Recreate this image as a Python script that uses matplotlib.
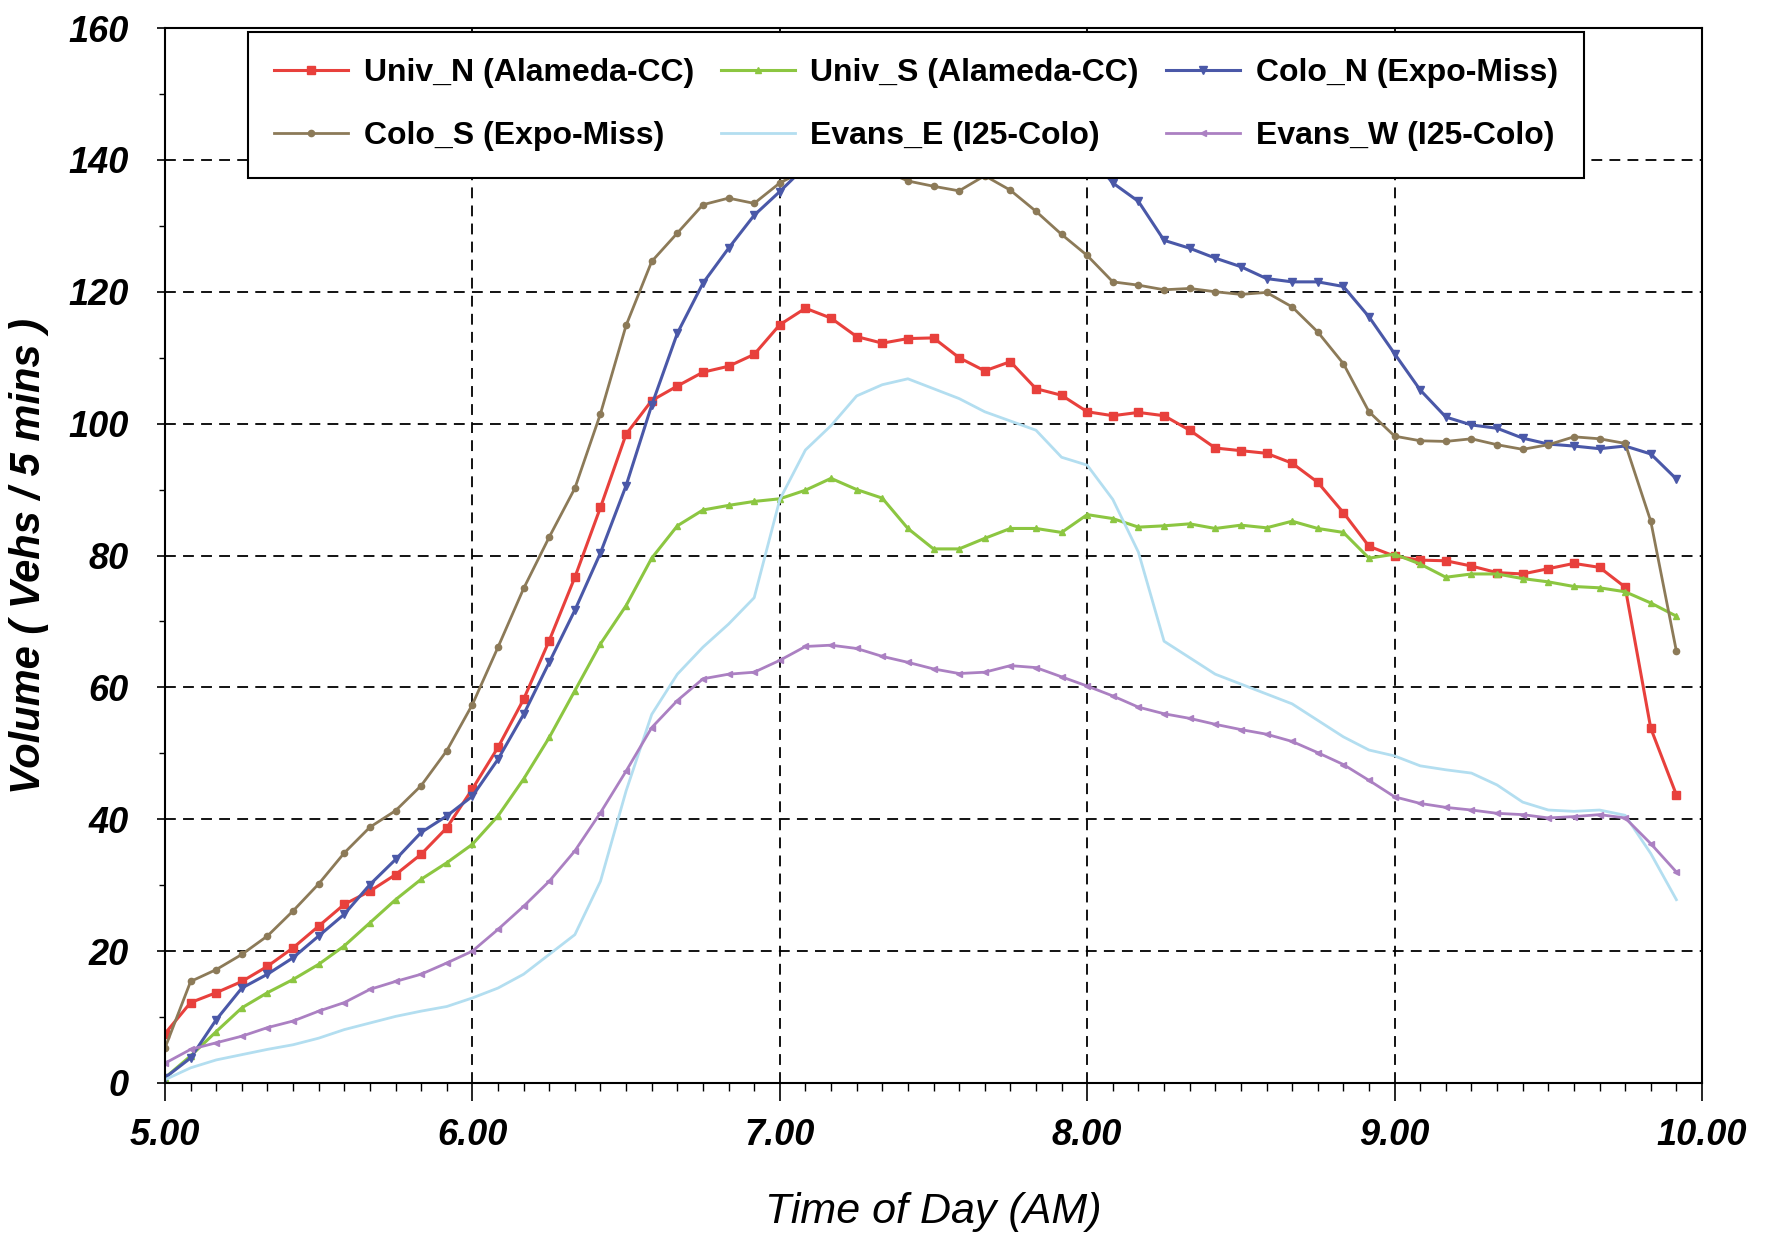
import matplotlib
matplotlib.use("Agg")
import matplotlib.pyplot as plt
import numpy as np
from matplotlib.ticker import MultipleLocator, FormatStrFormatter

plt.rcParams['font.family'] = ['Liberation Sans Narrow', 'Liberation Sans', 'DejaVu Sans']

# time of day, 5-minute bins from 5:00 to 9:55
times = 5 + np.arange(60) / 12.0

univ_n = [7.5, 12.2, 13.7, 15.4, 17.7, 20.5, 23.8, 27.1, 29.1, 31.6, 34.7, 38.7,
          44.6, 50.9, 58.2, 67.1, 76.7, 87.3, 98.4, 103.5, 105.7, 107.8, 108.7, 110.5,
          115.0, 117.5, 116.0, 113.2, 112.2, 112.9, 113.0, 110.0, 108.0, 109.4, 105.3, 104.3,
          101.8, 101.2, 101.7, 101.2, 99.0, 96.3, 95.9, 95.5, 94.0, 91.1, 86.5, 81.4,
          79.9, 79.3, 79.2, 78.4, 77.4, 77.2, 78.0, 78.8, 78.2, 75.2, 53.8, 43.7]

univ_s = [0.8, 4.1, 7.8, 11.4, 13.7, 15.7, 18.0, 20.8, 24.3, 27.8, 30.9, 33.4,
          36.2, 40.5, 46.1, 52.4, 59.5, 66.6, 72.4, 79.6, 84.5, 86.9, 87.6, 88.2,
          88.6, 89.9, 91.7, 90.0, 88.7, 84.1, 81.0, 81.0, 82.6, 84.1, 84.1, 83.5,
          86.2, 85.6, 84.3, 84.5, 84.8, 84.1, 84.6, 84.2, 85.2, 84.1, 83.5, 79.6,
          80.2, 78.7, 76.7, 77.2, 77.2, 76.5, 76.0, 75.3, 75.1, 74.5, 72.8, 70.8]

colo_n = [0.8, 3.8, 9.6, 14.4, 16.5, 19.0, 22.3, 25.6, 30.1, 33.9, 38.0, 40.5,
          43.5, 49.1, 55.9, 63.8, 71.7, 80.4, 90.6, 102.8, 113.7, 121.3, 126.6, 131.6,
          135.2, 139.0, 142.0, 145.0, 147.0, 149.0, 150.0, 150.0, 149.0, 148.0, 146.0, 144.0,
          141.0, 136.5, 133.7, 127.8, 126.6, 125.1, 123.8, 122.0, 121.5, 121.5, 120.8, 116.2,
          110.6, 105.1, 101.0, 99.8, 99.3, 97.8, 96.9, 96.6, 96.2, 96.6, 95.4, 91.6]

colo_s = [5.3, 15.4, 17.2, 19.5, 22.3, 26.1, 30.2, 34.9, 38.8, 41.3, 45.1, 50.4,
          57.4, 66.1, 75.0, 82.8, 90.2, 101.5, 114.9, 124.6, 128.9, 133.2, 134.2, 133.4,
          136.5, 138.5, 140.5, 140.5, 138.5, 136.8, 136.0, 135.3, 137.6, 135.4, 132.2, 128.7,
          125.5, 121.5, 121.0, 120.3, 120.5, 120.0, 119.6, 119.9, 117.7, 113.9, 109.1, 101.8,
          98.1, 97.4, 97.3, 97.7, 96.8, 96.1, 96.8, 98.0, 97.7, 97.0, 85.2, 65.5]

evans_e = [0.5, 2.3, 3.5, 4.3, 5.1, 5.8, 6.8, 8.1, 9.1, 10.1, 10.9, 11.6,
           12.9, 14.4, 16.5, 19.5, 22.5, 30.6, 44.3, 55.9, 62.0, 66.1, 69.6, 73.6,
           88.5, 96.0, 99.7, 104.2, 105.9, 106.8, 105.3, 103.8, 101.8, 100.4, 99.0, 94.9,
           93.7, 88.5, 80.5, 67.0, 64.5, 62.0, 60.5, 59.0, 57.5, 55.0, 52.5, 50.5,
           49.6, 48.1, 47.5, 47.0, 45.2, 42.6, 41.4, 41.2, 41.4, 40.6, 34.8, 27.8]

evans_w = [3.0, 5.1, 6.1, 7.1, 8.4, 9.4, 10.9, 12.2, 14.2, 15.4, 16.5, 18.2,
           20.0, 23.3, 26.8, 30.6, 35.2, 41.0, 47.3, 53.9, 58.0, 61.3, 62.0, 62.3,
           64.1, 66.2, 66.4, 65.9, 64.7, 63.8, 62.8, 62.1, 62.3, 63.3, 63.0, 61.6,
           60.2, 58.7, 57.0, 56.0, 55.3, 54.4, 53.6, 52.9, 51.8, 50.1, 48.3, 45.9,
           43.4, 42.4, 41.8, 41.4, 40.9, 40.7, 40.2, 40.4, 40.7, 40.2, 36.3, 32.0]

labels = ["Univ_N (Alameda-CC)", "Univ_S (Alameda-CC)", "Colo_N (Expo-Miss)",
          "Colo_S (Expo-Miss)", "Evans_E (I25-Colo)", "Evans_W (I25-Colo)"]
series = [univ_n, univ_s, colo_n, colo_s, evans_e, evans_w]
colors = ["#e8403c", "#8cc641", "#4a58a8", "#8c7a58", "#b3def0", "#ab80c2"]
markers = ["s", "^", "v", "o", None, "<"]
msizes = [5.5, 4, 5.5, 4.5, 0, 4]
lwidths = [2.2, 2.2, 2.2, 2.0, 2.0, 2.0]

fig = plt.figure(figsize=(17.69, 12.40), dpi=100)
ax = fig.add_axes([165/1769, 1 - 1083/1240, (1702-165)/1769, (1083-28)/1240])

handles = {}
for lab, y, c, m, ms, lw in zip(labels, series, colors, markers, msizes, lwidths):
    h, = ax.plot(times, y, color=c, marker=m, markersize=ms, linewidth=lw,
                 markeredgecolor=c, label=lab)
    handles[lab] = h

ax.set_xlim(5, 10)
ax.set_ylim(0, 160)
ax.xaxis.set_major_locator(MultipleLocator(1))
ax.xaxis.set_minor_locator(MultipleLocator(1/12))
ax.yaxis.set_major_locator(MultipleLocator(20))
ax.yaxis.set_minor_locator(MultipleLocator(10))
ax.xaxis.set_major_formatter(FormatStrFormatter('%.2f'))

ax.grid(True, which='major', color='black', linestyle=(0, (6, 4)), linewidth=1.3)
ax.tick_params(axis='x', which='major', length=13, width=1.2, pad=12)
ax.tick_params(axis='x', which='minor', length=6, width=1.0)
ax.tick_params(axis='y', which='major', length=6, width=1.2, pad=20)
ax.tick_params(axis='y', which='minor', length=4, width=1.0)
for lbl in ax.get_xticklabels() + ax.get_yticklabels():
    lbl.set_fontsize(26)
    lbl.set_fontweight('bold')
    lbl.set_fontstyle('italic')
for sp in ax.spines.values():
    sp.set_linewidth(1.5)

ax.set_xlabel("Time of Day (AM)", fontsize=31, fontstyle='italic', labelpad=28)
ax.set_ylabel("Volume ( Vehs / 5 mins )", fontsize=30, fontweight='bold',
              fontstyle='italic', labelpad=14)

# legend filled row by row (matplotlib fills columns first)
order = [labels[0], labels[3], labels[1], labels[4], labels[2], labels[5]]
leg = ax.legend([handles[k] for k in order], order, ncol=3,
                loc='upper left', bbox_to_anchor=(0.054, 0.9966), borderaxespad=0,
                prop={'size': 23, 'weight': 'bold'}, frameon=True, fancybox=False,
                framealpha=1, edgecolor='black', handlelength=2.3, handletextpad=0.5,
                columnspacing=0.85, labelspacing=1.05, borderpad=0.82)
leg.get_frame().set_linewidth(1.5)

fig.savefig("out.png", dpi=100)
